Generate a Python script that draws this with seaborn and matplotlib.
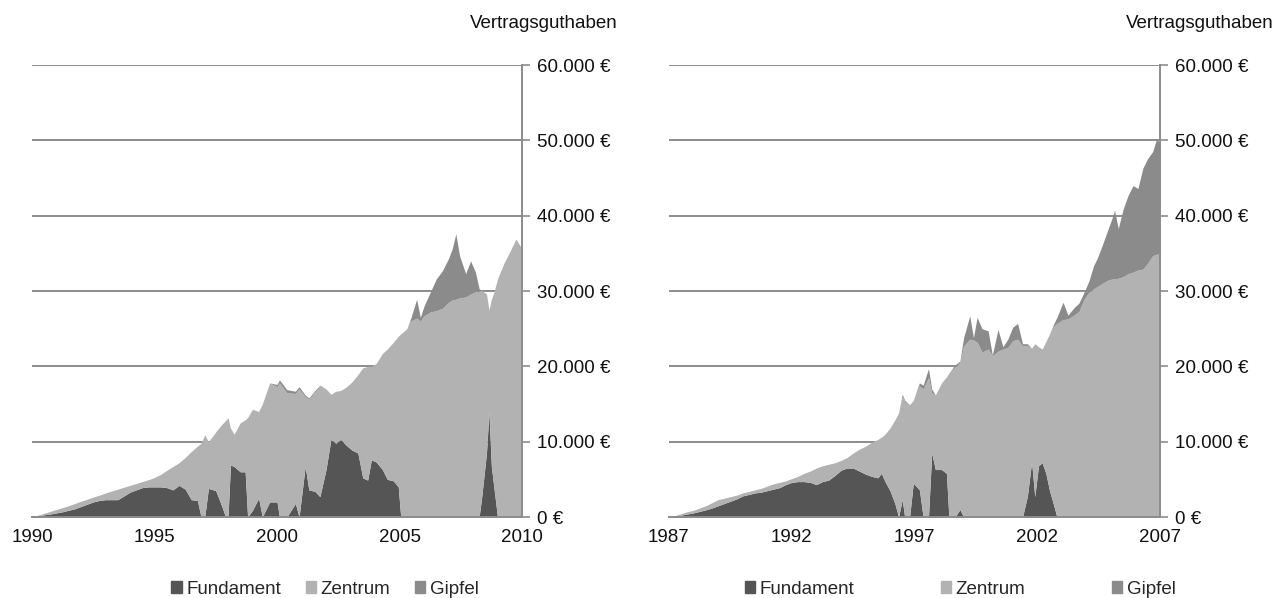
import matplotlib
matplotlib.use('Agg')
import matplotlib.pyplot as plt
import seaborn as sns
from matplotlib.patches import Patch
from matplotlib.ticker import FuncFormatter

# linkes Diagramm 1990-2010 (Stichtage als Dezimaljahre)
datum_a = [1990.00, 1990.25, 1990.50, 1990.75, 1991.00, 1991.25, 1991.50, 1991.75,
           1992.00, 1992.25, 1992.50, 1992.75, 1993.00, 1993.25, 1993.50, 1993.75,
           1994.00, 1994.25, 1994.50, 1994.75, 1995.00, 1995.25, 1995.50, 1995.75,
           1996.00, 1996.25, 1996.50, 1996.75, 1996.90,
           1997.05, 1997.20, 1997.50, 1997.75, 1997.90,
           1998.00, 1998.10, 1998.25, 1998.50, 1998.70, 1998.80,
           1999.00, 1999.25, 1999.40, 1999.70,
           2000.00, 2000.10, 2000.40, 2000.75, 2000.90,
           2001.15, 2001.30, 2001.55, 2001.75,
           2002.00, 2002.20, 2002.40, 2002.60, 2002.80,
           2003.05, 2003.30, 2003.50, 2003.70, 2003.85,
           2004.05, 2004.30, 2004.50, 2004.75, 2004.95,
           2005.05, 2005.30, 2005.45, 2005.70, 2005.85,
           2006.00, 2006.25, 2006.50, 2006.75,
           2007.00, 2007.15, 2007.30, 2007.45, 2007.70, 2007.90,
           2008.10, 2008.25, 2008.35, 2008.55, 2008.65, 2008.75, 2008.85,
           2009.00, 2009.25, 2009.50, 2009.75, 2010.00]
fundament_a = [0, 150, 300, 400, 550, 700, 900, 1100,
               1400, 1700, 2000, 2200, 2300, 2300, 2300, 2800,
               3300, 3600, 3900, 4000, 4000, 4000, 3900, 3600,
               4200, 3700, 2300, 2200, 0,
               0, 3800, 3500, 1400, 0,
               0, 6900, 6700, 6000, 6000, 0,
               900, 2500, 0, 2000,
               2000, 0, 0, 1800, 0,
               6700, 3600, 3400, 2700,
               6300, 10300, 9800, 10300, 9600,
               8900, 8500, 5200, 4900, 7600,
               7300, 6300, 5000, 4800, 4000,
               0, 0, 0, 0, 0,
               0, 0, 0, 0,
               0, 0, 0, 0, 0, 0,
               0, 0, 2500, 8500, 13900, 6700, 4000,
               0, 0, 0, 0, 0]
zentrum_a = [0, 100, 200, 350, 450, 550, 600, 700,
             700, 650, 650, 700, 900, 1150, 1400, 1150,
             900, 850, 800, 950, 1250, 1650, 2300, 3100,
             3000, 4200, 6400, 7200, 9800,
             10900, 6200, 7800, 10900, 12800,
             13200, 4900, 4300, 6500, 6900, 13200,
             13400, 11500, 15000, 15800,
             15300, 17800, 16500, 14600, 17000,
             9300, 12000, 13200, 14700,
             10700, 6000, 6900, 6500, 7600,
             9000, 10400, 14600, 15100, 12400,
             13100, 15400, 17300, 18400, 20000,
             24300, 25000, 26000, 26400, 26000,
             26700, 27200, 27400, 27700,
             28500, 28800, 28900, 29100, 29200, 29600,
             29900, 30000, 27600, 21100, 13600, 22200, 25800,
             31600, 33600, 35200, 36900, 35600]
gipfel_a = [0, 0, 0, 0, 0, 0, 0, 0,
            0, 0, 0, 0, 0, 0, 0, 0,
            0, 0, 0, 0, 0, 0, 0, 0,
            0, 0, 0, 0, 0,
            0, 0, 0, 0, 0,
            0, 0, 0, 0, 0, 0,
            0, 0, 0, 0,
            300, 400, 400, 300, 300,
            200, 200, 200, 100,
            0, 0, 0, 0, 0,
            0, 0, 0, 0, 0,
            0, 0, 0, 0, 0,
            0, 0, 300, 2500, 500,
            1300, 2600, 4200, 5000,
            5800, 6800, 8700, 5600, 3100, 4400,
            2600, 300, 0, 0, 0, 0, 0,
            0, 0, 0, 0, 0]

# rechtes Diagramm 1987-2007
datum_b = [1987.00, 1987.25, 1987.50, 1987.75, 1988.00, 1988.25, 1988.50, 1988.75,
           1989.00, 1989.25, 1989.50, 1989.75, 1990.00, 1990.25, 1990.50, 1990.75,
           1991.00, 1991.25, 1991.50, 1991.75, 1992.00, 1992.25, 1992.50, 1992.75,
           1993.00, 1993.25, 1993.50, 1993.75, 1994.00, 1994.25, 1994.50, 1994.75,
           1995.00, 1995.25, 1995.50, 1995.65, 1995.80,
           1996.00, 1996.20, 1996.35, 1996.50, 1996.60, 1996.80, 1996.95,
           1997.20, 1997.35, 1997.57, 1997.70, 1997.85,
           1998.10, 1998.30, 1998.40, 1998.65, 1998.85,
           1999.00, 1999.25, 1999.40, 1999.55, 1999.75,
           2000.00, 2000.17, 2000.40, 2000.60, 2000.80,
           2001.00, 2001.20, 2001.40, 2001.60, 2001.77, 2001.90,
           2002.05, 2002.20, 2002.35, 2002.50, 2002.65, 2002.80,
           2003.05, 2003.25, 2003.50, 2003.70, 2003.90,
           2004.10, 2004.30, 2004.45, 2004.65, 2004.85,
           2005.05, 2005.15, 2005.30, 2005.50, 2005.70, 2005.90,
           2006.10, 2006.30, 2006.50, 2006.70, 2006.87, 2007.00]
fundament_b = [0, 100, 250, 400, 550, 750, 950, 1200,
               1500, 1800, 2100, 2400, 2800, 3000, 3200, 3300,
               3500, 3700, 3900, 4300, 4600, 4700, 4700, 4600,
               4300, 4700, 4900, 5500, 6200, 6500, 6500, 6100,
               5700, 5400, 5200, 5800, 4700,
               3500, 1800, 0, 2300, 0, 0, 4500,
               3600, 0, 0, 8500, 6300,
               6300, 5800, 0, 0, 1000,
               0, 0, 0, 0, 0,
               0, 0, 0, 0, 0,
               0, 0, 0, 2800, 7300, 2700,
               6800, 7200, 5800, 3500, 1800, 0,
               0, 0, 0, 0, 0,
               0, 0, 0, 0, 0,
               0, 0, 0, 0, 0, 0,
               0, 0, 0, 0, 0, 0]
zentrum_b = [0, 100, 200, 300, 350, 450, 550, 700,
             800, 700, 600, 500, 400, 400, 400, 500,
             600, 700, 700, 500, 500, 700, 1100, 1500,
             2200, 2100, 2100, 1700, 1300, 1400, 2000, 2900,
             3700, 4500, 5100, 4800, 6300,
             8300, 11100, 13800, 13700, 15300, 14900, 11000,
             13800, 17000, 18500, 8000, 9900,
             11500, 12800, 19100, 19900, 19500,
             22700, 23600, 23500, 23200, 21900,
             22300, 21400, 22000, 22300, 22500,
             23400, 23600, 22700, 20000, 15100, 20300,
             15800, 15100, 17500, 20800, 23500, 25700,
             26200, 26300, 26800, 27300, 28900,
             29800, 30300, 30600, 31000, 31400,
             31600, 31600, 31700, 31900, 32300, 32500,
             32800, 32900, 33700, 34700, 34900, 34900]
gipfel_b = [0, 0, 0, 0, 0, 0, 0, 0,
            0, 0, 0, 0, 0, 0, 0, 0,
            0, 0, 0, 0, 0, 0, 0, 0,
            0, 0, 0, 0, 0, 0, 0, 0,
            0, 0, 0, 0, 0,
            0, 0, 0, 300, 200, 0, 0,
            400, 500, 1200, 500, 0,
            0, 0, 0, 300, 200,
            1100, 3100, 300, 3300, 3100,
            2400, 100, 2900, 300, 1100,
            1800, 2100, 300, 200, 0, 0,
            0, 0, 0, 0, 200, 800,
            2300, 500, 1000, 1100, 900,
            1500, 3100, 3800, 5100, 6500,
            8100, 9100, 6600, 9000, 10400, 11500,
            10800, 13400, 13900, 13800, 15400, 14500]

serien = ['Fundament', 'Zentrum', 'Gipfel']
farben = ['#555555', '#b2b2b2', '#8b8b8b']
jahre_a = [1990, 1995, 2000, 2005, 2010]
jahre_b = [1987, 1992, 1997, 2002, 2007]
y_ticks = [0, 10000, 20000, 30000, 40000, 50000, 60000]

sns.set_theme(style='white')
plt.rcParams['font.family'] = ['Liberation Sans', 'DejaVu Sans']

grau = '#8c8c8c'
schrift = 13.5


def euro(v, pos):
    return f'{int(v):,}'.replace(',', '.') + ' €'


def zeichne(ax, datum, f, z, g, jahre):
    ax.stackplot(datum, f, z, g, colors=farben, linewidth=0)
    ax.set_xlim(jahre[0], jahre[-1])
    ax.set_ylim(0, 60000)
    ax.set_xticks(jahre)
    ax.set_yticks(y_ticks)
    ax.yaxis.tick_right()
    ax.yaxis.set_major_formatter(FuncFormatter(euro))
    ax.yaxis.grid(True, color=grau, linewidth=1.4)
    ax.set_axisbelow(True)
    for s in ['left', 'top']:
        ax.spines[s].set_visible(False)
    for s in ['right', 'bottom']:
        ax.spines[s].set_color(grau)
        ax.spines[s].set_linewidth(1.4)
    ax.tick_params(axis='both', direction='out', length=6, width=1.2,
                   color=grau, labelsize=schrift, labelcolor='#111111')
    ax.tick_params(axis='x', pad=3)
    ax.tick_params(axis='y', pad=5)


fig = plt.figure(figsize=(12.76, 5.98), dpi=100)
ax1 = fig.add_axes([32 / 1276, 81 / 598, 490 / 1276, 452 / 598])
ax2 = fig.add_axes([669 / 1276, 81 / 598, 491 / 1276, 452 / 598])

zeichne(ax1, datum_a, fundament_a, zentrum_a, gipfel_a, jahre_a)
zeichne(ax2, datum_b, fundament_b, zentrum_b, gipfel_b, jahre_b)

fig.text(618 / 1276, 1 - 24 / 598, 'Vertragsguthaben', ha='right', va='center',
         fontsize=schrift, color='#111111')
fig.text(1274 / 1276, 1 - 24 / 598, 'Vertragsguthaben', ha='right', va='center',
         fontsize=schrift, color='#111111')

handles = [Patch(color=c, label=l) for c, l in zip(farben, serien)]
fig.legend(handles=handles, loc='center', bbox_to_anchor=(325 / 1276, 1 - 589 / 598),
           ncol=3, frameon=False, handlelength=0.55, handleheight=0.55,
           handletextpad=0.25, columnspacing=1.3, fontsize=schrift, borderaxespad=0)
fig.legend(handles=handles, loc='center', bbox_to_anchor=(960 / 1276, 1 - 589 / 598),
           ncol=3, frameon=False, handlelength=0.55, handleheight=0.55,
           handletextpad=0.25, columnspacing=4.6, fontsize=schrift, borderaxespad=0)

fig.savefig('out.png', dpi=100)
